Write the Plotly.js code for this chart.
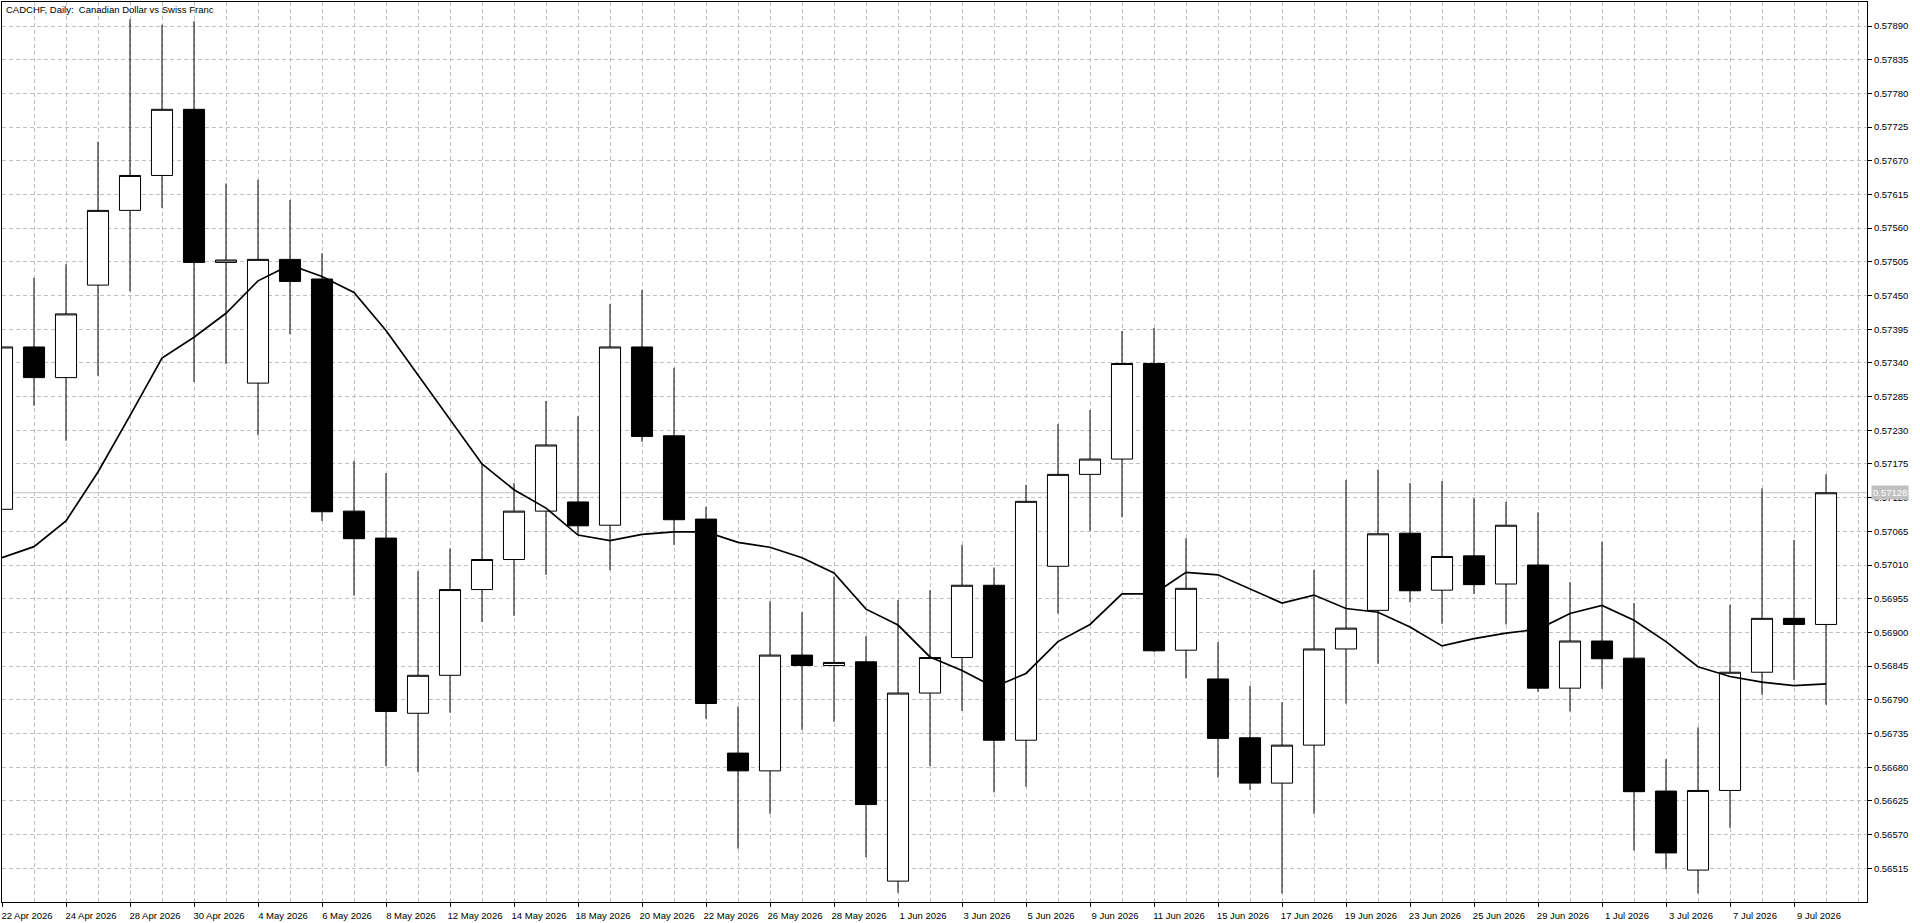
<!DOCTYPE html>
<html>
<head>
<meta charset="utf-8">
<script src="https://cdn.plot.ly/plotly-3.0.1.min.js"></script>
<style>html,body{margin:0;padding:0;background:#fff;}#chart{width:1920px;height:923px;}</style>
</head>
<body>
<div id="chart"></div>
<script>
// Daily bars, 22 Apr 2026 .. 10 Jul 2026
const dates = ["22 Apr 2026","23 Apr 2026","24 Apr 2026","27 Apr 2026","28 Apr 2026","29 Apr 2026","30 Apr 2026","1 May 2026",
  "4 May 2026","5 May 2026","6 May 2026","7 May 2026","8 May 2026","11 May 2026","12 May 2026","13 May 2026","14 May 2026","15 May 2026",
  "18 May 2026","19 May 2026","20 May 2026","21 May 2026","22 May 2026","25 May 2026","26 May 2026","27 May 2026","28 May 2026","29 May 2026",
  "1 Jun 2026","2 Jun 2026","3 Jun 2026","4 Jun 2026","5 Jun 2026","8 Jun 2026","9 Jun 2026","10 Jun 2026","11 Jun 2026","12 Jun 2026",
  "15 Jun 2026","16 Jun 2026","17 Jun 2026","18 Jun 2026","19 Jun 2026","22 Jun 2026","23 Jun 2026","24 Jun 2026","25 Jun 2026","26 Jun 2026",
  "29 Jun 2026","30 Jun 2026","1 Jul 2026","2 Jul 2026","3 Jul 2026","6 Jul 2026","7 Jul 2026","8 Jul 2026","9 Jul 2026","10 Jul 2026"];

const openP = [0.57101,0.57366,0.57316,0.57467,0.57589,0.57646,0.57754,0.57504,0.57307,0.57509,
  0.57477,0.57098,0.57054,0.56768,0.56830,0.56970,0.57019,0.57098,0.57113,0.57075,
  0.57366,0.57221,0.57085,0.56703,0.56674,0.56863,0.56846,0.56852,0.56494,0.56801,
  0.56859,0.56977,0.56724,0.57008,0.57158,0.57183,0.57339,0.56871,0.56824,0.56728,
  0.56654,0.56716,0.56873,0.56936,0.57062,0.56969,0.57025,0.56979,0.57010,0.56809,
  0.56886,0.56858,0.56641,0.56512,0.56642,0.56835,0.56923,0.56913];

const highP = [0.57366,0.57479,0.57501,0.57701,0.57901,0.57892,0.57898,0.57633,0.57639,0.57606,
  0.57519,0.57180,0.57160,0.57000,0.57037,0.57177,0.57144,0.57278,0.57253,0.57436,
  0.57459,0.57332,0.57105,0.56779,0.56951,0.56933,0.56991,0.56894,0.56953,0.56969,
  0.57043,0.57006,0.57141,0.57240,0.57263,0.57392,0.57397,0.57054,0.56884,0.56813,
  0.56786,0.57002,0.57149,0.57166,0.57144,0.57147,0.57119,0.57113,0.57096,0.56982,
  0.57048,0.56948,0.56693,0.56745,0.56945,0.57135,0.57051,0.57158];

const lowP = [0.57101,0.57270,0.57213,0.57319,0.57457,0.57593,0.57309,0.57338,0.57222,0.57387,
  0.57082,0.56960,0.56682,0.56672,0.56769,0.56917,0.56927,0.56994,0.57059,0.57002,
  0.57211,0.57043,0.56759,0.56547,0.56604,0.56741,0.56754,0.56533,0.56475,0.56682,
  0.56772,0.56639,0.56648,0.56931,0.57066,0.57088,0.56868,0.56825,0.56663,0.56643,
  0.56474,0.56604,0.56784,0.56849,0.56949,0.56914,0.56963,0.56913,0.56803,0.56771,
  0.56808,0.56544,0.56513,0.56474,0.56581,0.56798,0.56822,0.56782];

const closeP = [0.57366,0.57316,0.57420,0.57589,0.57646,0.57754,0.57504,0.57508,0.57509,0.57473,
  0.57097,0.57053,0.56771,0.56830,0.56970,0.57019,0.57098,0.57206,0.57074,0.57366,
  0.57220,0.57084,0.56784,0.56674,0.56863,0.56846,0.56851,0.56619,0.56801,0.56859,
  0.56977,0.56724,0.57114,0.57158,0.57183,0.57339,0.56870,0.56972,0.56727,0.56654,
  0.56716,0.56873,0.56907,0.57061,0.56968,0.57024,0.56978,0.57075,0.56809,0.56886,
  0.56857,0.56640,0.56540,0.56642,0.56835,0.56923,0.56913,0.57128];

const maP = [0.57022,0.57040,0.57082,0.57162,0.57254,0.57348,0.57382,0.57421,0.57474,0.57500,
  0.57481,0.57455,0.57393,0.57320,0.57247,0.57175,0.57133,0.57103,0.57059,0.57050,
  0.57060,0.57064,0.57064,0.57047,0.57039,0.57022,0.56997,0.56938,0.56912,0.56860,
  0.56838,0.56811,0.56833,0.56885,0.56913,0.56963,0.56963,0.56998,0.56994,0.56971,
  0.56948,0.56961,0.56939,0.56933,0.56909,0.56878,0.56890,0.56899,0.56905,0.56931,
  0.56944,0.56920,0.56885,0.56844,0.56828,0.56819,0.56813,0.56816];

const priceTicks = [0.56515,0.56570,0.56625,0.56680,0.56735,0.56790,0.56845,0.56900,0.56955,0.57010,
  0.57065,0.57120,0.57175,0.57230,0.57285,0.57340,0.57395,0.57450,0.57505,0.57560,0.57615,0.57670,
  0.57725,0.57780,0.57835,0.57890];
const lastPrice = 0.57128;
const chartTitle = "CADCHF, Daily:\u00a0 Canadian Dollar vs Swiss Franc";

const idx = dates.map((d, i) => i);
const labelIdx = idx.filter(i => i % 2 === 0);
const labelText = labelIdx.map(i => dates[i]);

const FONT = "Liberation Sans, Arial, sans-serif";
const FS = 9.5;

const candles = {
  type: "candlestick",
  x: idx, open: openP, high: highP, low: lowP, close: closeP,
  increasing: {line: {color: "#000000", width: 1}, fillcolor: "#ffffff"},
  decreasing: {line: {color: "#000000", width: 1}, fillcolor: "#000000"},
  whiskerwidth: 0,
  hoverinfo: "skip",
  showlegend: false
};
const ma = {
  type: "scatter", mode: "lines",
  x: idx, y: maP,
  line: {color: "#000000", width: 1.7},
  hoverinfo: "skip", showlegend: false
};

const W = 1920, H = 923;
const mL = 2, mR = 53, mT = 2, mB = 21;
const barPx = 32;
const xMax = (W - mL - mR) / barPx;

const layout = {
  width: W, height: H,
  margin: {l: mL, r: mR, t: mT, b: mB, pad: 0},
  paper_bgcolor: "#ffffff", plot_bgcolor: "#ffffff",
  font: {family: FONT, size: FS, color: "#000000"},
  title: {text: chartTitle, font: {family: FONT, size: FS, color: "#000000"},
          xref: "container", x: 6 / W, xanchor: "left", yref: "container", y: 1 - 9.5 / H, yanchor: "middle"},
  showlegend: false,
  boxgap: 0.34, boxgroupgap: 0,
  xaxis: {
    type: "linear", range: [0, xMax], fixedrange: true,
    rangeslider: {visible: false},
    tickmode: "array", tickvals: labelIdx, ticktext: labelText,
    ticks: "outside", ticklen: 4, tickcolor: "#000000", tickwidth: 1,
    ticklabelshift: 25, ticklabelstandoff: 1,
    showgrid: true, gridcolor: "#c0c0c0", griddash: "4px,3px", gridwidth: 1,
    minor: {tickmode: "linear", tick0: 0, dtick: 1, showgrid: true, gridcolor: "#c0c0c0", griddash: "4px,3px", gridwidth: 1, ticks: ""},
    showline: true, linecolor: "#000000", linewidth: 1, mirror: true,
    zeroline: false,
    tickfont: {family: FONT, size: FS, color: "#000000"}
  },
  yaxis: {
    side: "right", range: [0.564599, 0.579292], fixedrange: true,
    tickmode: "array", tickvals: priceTicks, ticktext: priceTicks.map(v => v.toFixed(5)),
    ticks: "outside", ticklen: 4, tickcolor: "#000000", tickwidth: 1,
    showgrid: true, gridcolor: "#c0c0c0", griddash: "4px,3px", gridwidth: 1,
    showline: true, linecolor: "#000000", linewidth: 1, mirror: true,
    zeroline: false,
    tickfont: {family: FONT, size: FS, color: "#000000"}
  },
  shapes: [{
    type: "line", xref: "paper", x0: 0, x1: 1, yref: "y", y0: lastPrice, y1: lastPrice,
    line: {color: "#c0c0c0", width: 1}, layer: "below"
  }],
  annotations: [{
    xref: "paper", x: 1, xanchor: "left", xshift: 4,
    yref: "y", y: lastPrice, yanchor: "middle",
    text: lastPrice.toFixed(5), showarrow: false,
    bgcolor: "#c0c0c0", borderpad: 1,
    font: {family: FONT, size: FS, color: "#ffffff"}
  }]
};

Plotly.newPlot("chart", [candles, ma], layout, {displayModeBar: false, staticPlot: true});
</script>
</body>
</html>
